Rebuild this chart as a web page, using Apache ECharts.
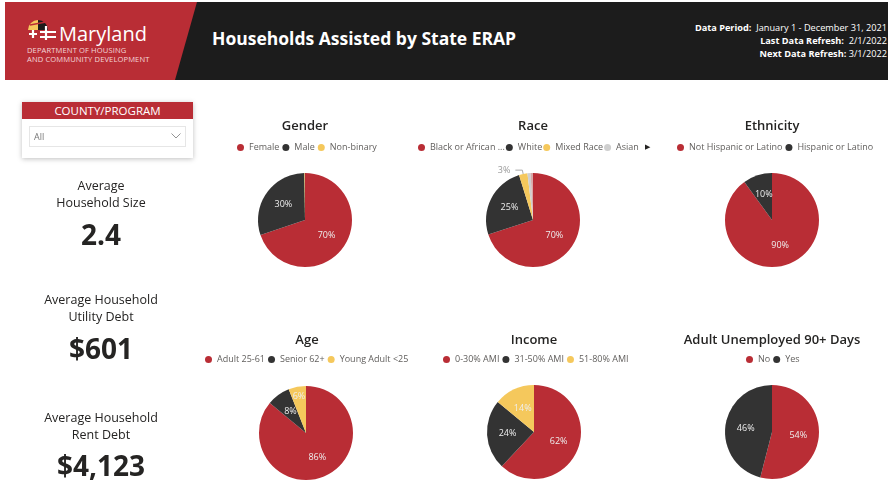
<!DOCTYPE html>
<html>
<head>
<meta charset="utf-8">
<title>Households Assisted by State ERAP</title>
<script src="https://cdn.jsdelivr.net/npm/echarts@6/dist/echarts.min.js"></script>
<style>
  html, body { margin: 0; padding: 0; background: #fff; }
  body { width: 888px; height: 495px; overflow: hidden; position: relative; font-family: 'Open Sans', 'Noto Sans', sans-serif; color: #252423; }
  #chart { position: absolute; left: 0; top: 0; width: 888px; height: 495px; }
  .header { position: absolute; left: 5px; top: 2px; width: 883px; height: 78px; background: #1c1c1c; }
  .header .red { position: absolute; left: 0; top: 0; width: 195px; height: 78px; background: #b92d35; clip-path: polygon(0 0, 192px 0, 170px 100%, 0 100%); }
  .logo-name { position: absolute; left: 54px; top: 19px; color: #fff; font-size: 20px; line-height: 26px; }
  .logo-dept { position: absolute; left: 22px; top: 44px; color: #f3d6d8; font-size: 7.6px; line-height: 8.5px; letter-spacing: 0.1px; }
  .title { position: absolute; left: 207px; top: 24px; color: #fff; font-size: 17.5px; font-weight: 700; line-height: 24px; }
  .period { position: absolute; right: 1px; top: 19px; color: #fff; font-size: 9.2px; line-height: 13px; text-align: right; white-space: nowrap; }
  .period b { font-weight: 700; }
  .slicer { position: absolute; left: 22px; top: 102px; width: 171px; height: 56px; background: #fff; box-shadow: 0 1px 5px rgba(0,0,0,0.25); }
  .slicer .hd { height: 17px; background: #b92d35; color: #fff; font-size: 11.5px; line-height: 17px; text-align: center; }
  .slicer .dd { position: absolute; left: 7px; top: 24px; width: 155px; height: 19px; border: 1px solid #e6e6e6; font-size: 9px; line-height: 19px; color: #777; }
  .slicer .dd span { margin-left: 4px; }
  .slicer .dd svg { position: absolute; right: 4px; top: 6px; }
  .kpi { position: absolute; left: 1px; width: 200px; text-align: center; }
  .kpi .lbl { font-size: 12.5px; line-height: 17px; color: #252423; }
  .kpi .val { font-size: 28px; font-weight: 700; color: #252423; line-height: 34px; }
</style>
</head>
<body>
<div id="chart"></div>

<div class="header">
  <div class="red"></div>
  <svg style="position:absolute;left:21px;top:16px" width="34" height="22" viewBox="0 0 34 22">
    <path d="M2 12 A10 10 0 0 1 12 2 L12 12 Z" fill="#f5c85c"/>
    <path d="M12 2 A10 10 0 0 1 22 12 L12 12 Z" fill="#1c1c1c"/>
    <path d="M4 7 L20 4" stroke="#b92d35" stroke-width="1.5"/>
    <path d="M3 16 h8 M7 12 v8 M14 14 h16 M20 8 v14 M14 19 h16" stroke="#fff" stroke-width="2.2"/>
  </svg>
  <div class="logo-name">Maryland</div>
  <div class="logo-dept">DEPARTMENT OF HOUSING<br>AND COMMUNITY DEVELOPMENT</div>
  <div class="title">Households Assisted by State ERAP</div>
  <div class="period">
    <b>Data Period:</b>&nbsp; January 1 - December 31, 2021<br>
    <b>Last Data Refresh:</b>&nbsp; 2/1/2022<br>
    <b>Next Data Refresh:</b> 3/1/2022
  </div>
</div>

<div class="slicer">
  <div class="hd">COUNTY/PROGRAM</div>
  <div class="dd"><span>All</span>
    <svg width="10" height="6" viewBox="0 0 10 6"><path d="M0.5 0.5 L5 5 L9.5 0.5" fill="none" stroke="#888" stroke-width="0.9"/></svg>
  </div>
</div>

<div class="kpi" style="top:177px"><div class="lbl">Average<br>Household Size</div><div class="val" style="margin-top:6px">2.4</div></div>
<div class="kpi" style="top:291px"><div class="lbl">Average Household<br>Utility Debt</div><div class="val" style="margin-top:6px">$601</div></div>
<div class="kpi" style="top:409px"><div class="lbl">Average Household<br>Rent Debt</div><div class="val" style="margin-top:5px">$4,123</div></div>

<script>
// data (percent of households)
const genderNames = ['Female', 'Male', 'Non-binary'];
const genderValues = [69.8, 30.0, 0.2];

const raceNames = ['Black or African American', 'White', 'Mixed Race', 'Asian', 'Other'];
const raceValues = [70.0, 25.2, 2.9, 1.1, 0.8];

const ethnicityNames = ['Not Hispanic or Latino', 'Hispanic or Latino'];
const ethnicityValues = [90, 10];

const ageNames = ['Adult 25-61', 'Senior 62+', 'Young Adult <25'];
const ageValues = [86, 8, 6];

const incomeNames = ['0-30% AMI', '31-50% AMI', '51-80% AMI'];
const incomeValues = [62, 24, 14];

const unemployedNames = ['No', 'Yes'];
const unemployedValues = [54, 46];

const PALETTE = ['#b92d35', '#333333', '#f5c85c', '#cfcfcf', '#d9a8a8'];
const FONT = "'Open Sans', 'Noto Sans', sans-serif";

const panels = [
  { title: 'Gender', names: genderNames, values: genderValues, cx: 305, cy: 220, tx: 305, ty: 126, legLeft: 237, legTop: 143 },
  { title: 'Race', names: raceNames, values: raceValues, legendNames: raceNames.slice(0, 4), cx: 533, cy: 220, tx: 533, ty: 126, legLeft: 418, legTop: 143, legGap: 1 },
  { title: 'Ethnicity', names: ethnicityNames, values: ethnicityValues, cx: 772, cy: 220, tx: 772, ty: 126, legLeft: 677, legTop: 143 },
  { title: 'Age', names: ageNames, values: ageValues, cx: 306, cy: 433, tx: 307, ty: 340, legLeft: 205, legTop: 355 },
  { title: 'Income', names: incomeNames, values: incomeValues, cx: 534, cy: 432, tx: 534, ty: 340, legLeft: 443, legTop: 355 },
  { title: 'Adult Unemployed 90+ Days', names: unemployedNames, values: unemployedValues, cx: 772, cy: 432, tx: 772, ty: 340, legLeft: 746, legTop: 355 }
];

function buildSeries(p) {
  const total = p.values.reduce((a, b) => a + b, 0);
  return {
    type: 'pie',
    name: p.title,
    center: [p.cx, p.cy],
    radius: 47,
    startAngle: 90,
    clockwise: true,
    avoidLabelOverlap: false,
    percentPrecision: 0,
    silent: true,
    animation: false,
    itemStyle: { borderWidth: 0 },
    label: { show: true, position: 'inside', formatter: '{d}%', color: '#eeeeee', fontSize: 9, fontFamily: FONT },
    labelLine: { show: false },
    // narrow inside slices get their label pushed outward, like the original
    labelLayout: function (params) {
      const pct = p.values[params.dataIndex] / total * 100;
      if (pct >= 5 && pct < 7) {
        const r = params.labelRect;
        const vx = r.x + r.width / 2 - p.cx;
        const vy = r.y + r.height / 2 - p.cy;
        const len = Math.hypot(vx, vy) || 1;
        return { dx: vx / len * 11, dy: vy / len * 11, hideOverlap: false };
      }
      return { hideOverlap: false };
    },
    data: p.names.map((n, i) => {
      const item = { name: n, value: p.values[i], itemStyle: { color: PALETTE[i] } };
      if (p.values[i] < 2) {
        item.label = { show: false };
      } else if (p.values[i] < 5) {
        item.label = { show: true, position: 'outside', color: '#999', fontSize: 9 };
        item.labelLine = { show: true, length: 4, length2: 7, lineStyle: { color: '#aaa', width: 1 } };
      }
      return item;
    })
  };
}

function buildLegend(p) {
  return {
    data: p.legendNames || p.names,
    left: p.legLeft,
    top: p.legTop,
    padding: 0,
    icon: 'circle',
    itemWidth: 7,
    itemHeight: 7,
    itemGap: p.legGap != null ? p.legGap : 3,
    selectedMode: false,
    formatter: name => name.length > 24 ? name.slice(0, 16) + ' ...' : name,
    textStyle: { fontSize: 9, color: '#605e5c', fontFamily: FONT }
  };
}

const graphics = panels.map(p => ({
  type: 'text',
  x: p.tx,
  y: p.ty,
  style: { text: p.title, align: 'center', verticalAlign: 'middle', font: "600 13px " + FONT, fill: '#252423' }
}));
graphics.push({
  type: 'text', x: 647, y: 147,
  style: { text: '\u25B6', align: 'center', verticalAlign: 'middle', font: '7px ' + FONT, fill: '#252423' }
});

const chart = echarts.init(document.getElementById('chart'), null, { renderer: 'canvas' });
chart.setOption({
  animation: false,
  legend: panels.map(buildLegend),
  series: panels.map(buildSeries),
  graphic: graphics
});
</script>
</body>
</html>
